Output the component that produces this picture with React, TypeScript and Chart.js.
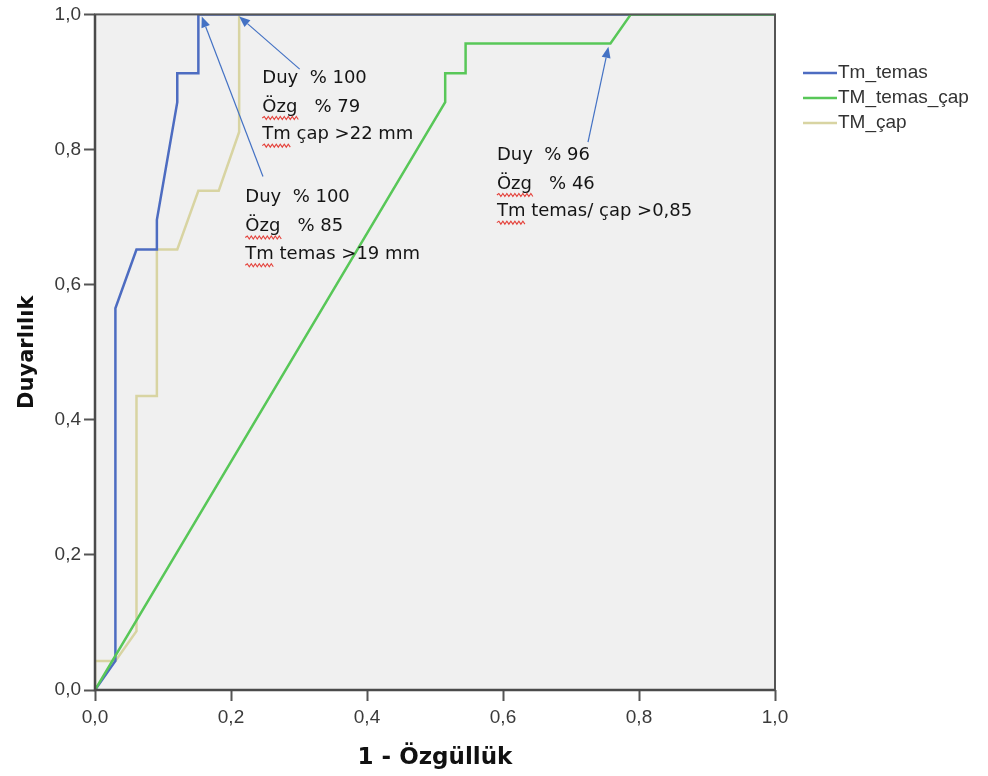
import { useEffect, useRef } from 'react';
import { Chart, registerables } from 'chart.js';

Chart.register(...registerables);

// ---- data ----
const seriesNames = ['Tm_temas', 'TM_temas_çap', 'TM_çap'];
const seriesColors = ['#4d6cc1', '#58c758', '#d8d4a2'];

const tmTemasX = [0, 0.030, 0.030, 0.061, 0.091, 0.091, 0.121, 0.121, 0.152, 0.152, 1];
const tmTemasY = [0, 0.043, 0.565, 0.652, 0.652, 0.696, 0.870, 0.913, 0.913, 1, 1];

const tmTemasCapX = [0, 0.515, 0.515, 0.545, 0.545, 0.758, 0.788, 1];
const tmTemasCapY = [0, 0.870, 0.913, 0.913, 0.957, 0.957, 1, 1];

const tmCapX = [0, 0, 0.030, 0.061, 0.061, 0.091, 0.091, 0.121, 0.152, 0.182, 0.212, 0.212, 1];
const tmCapY = [0, 0.043, 0.043, 0.087, 0.435, 0.435, 0.652, 0.652, 0.739, 0.739, 0.826, 1, 1];

const axisTicks = [0, 0.2, 0.4, 0.6, 0.8, 1.0];
const xTitle = '1 - Özgüllük';
const yTitle = 'Duyarlılık';

const note1 = ['Duy  % 100', 'Özg   % 79', 'Tm çap >22 mm'];
const note2 = ['Duy  % 100', 'Özg   % 85', 'Tm temas >19 mm'];
const note3 = ['Duy  % 96', 'Özg   % 46', 'Tm temas/ çap >0,85'];

// ---- layout of annotations (data coordinates) ----
const notePlacement = [
  { lines: note1, x: 0.246, y: [0.906, 0.863, 0.822] },
  { lines: note2, x: 0.221, y: [0.729, 0.686, 0.645] },
  { lines: note3, x: 0.591, y: [0.792, 0.749, 0.708] },
];
const arrowPlacement = [
  { from: [0.301, 0.919], to: [0.212, 0.997] },
  { from: [0.247, 0.760], to: [0.157, 0.997] },
  { from: [0.725, 0.811], to: [0.755, 0.952] },
];

const fmt = (v: number) => v.toFixed(1).replace('.', ',');
const toPts = (xs: number[], ys: number[]) => xs.map((x, i) => ({ x, y: ys[i] }));

const decorPlugin = {
  id: 'decor',
  beforeDatasetsDraw(chart: any) {
    const { ctx, chartArea: a } = chart;
    ctx.save();
    ctx.fillStyle = '#f0f0f0';
    ctx.fillRect(a.left, a.top, a.right - a.left, a.bottom - a.top);
    ctx.restore();
  },
  afterDatasetsDraw(chart: any) {
    const { ctx, chartArea: a, scales } = chart;
    const xs = scales.x;
    const ys = scales.y;
    ctx.save();
    // frame
    ctx.strokeStyle = '#555';
    ctx.lineWidth = 2;
    ctx.strokeRect(a.left, a.top, a.right - a.left, a.bottom - a.top);
    ctx.lineWidth = 2.5;
    ctx.strokeStyle = '#4a4a4a';
    ctx.beginPath();
    ctx.moveTo(a.left, a.top);
    ctx.lineTo(a.left, a.bottom);
    ctx.lineTo(a.right, a.bottom);
    ctx.stroke();

    // notes
    ctx.font = '18px "DejaVu Sans"';
    ctx.textAlign = 'left';
    ctx.textBaseline = 'middle';
    for (const n of notePlacement) {
      const px = xs.getPixelForValue(n.x);
      n.lines.forEach((line, i) => {
        const py = ys.getPixelForValue(n.y[i]);
        ctx.fillStyle = '#151515';
        ctx.fillText(line, px, py);
        // spell-check squiggle under first word for lines 2 and 3
        if (i > 0) {
          const word = line.split(' ')[0];
          const w = ctx.measureText(word).width;
          ctx.beginPath();
          ctx.strokeStyle = '#e4413a';
          ctx.lineWidth = 1.1;
          const yy = py + 11;
          let up = true;
          ctx.moveTo(px, yy);
          for (let sx = px + 2; sx <= px + w + 1; sx += 2) {
            ctx.lineTo(sx, yy + (up ? -1.5 : 1.5));
            up = !up;
          }
          ctx.stroke();
        }
      });
    }

    // arrows
    ctx.strokeStyle = '#4472c4';
    ctx.fillStyle = '#4472c4';
    ctx.lineWidth = 1.2;
    for (const ar of arrowPlacement) {
      const x1 = xs.getPixelForValue(ar.from[0]);
      const y1 = ys.getPixelForValue(ar.from[1]);
      const x2 = xs.getPixelForValue(ar.to[0]);
      const y2 = ys.getPixelForValue(ar.to[1]);
      const ang = Math.atan2(y2 - y1, x2 - x1);
      const hl = 11;
      const hw = 4.5;
      const bx = x2 - hl * Math.cos(ang);
      const by = y2 - hl * Math.sin(ang);
      ctx.beginPath();
      ctx.moveTo(x1, y1);
      ctx.lineTo(bx, by);
      ctx.stroke();
      ctx.beginPath();
      ctx.moveTo(x2, y2);
      ctx.lineTo(bx + hw * Math.sin(ang), by - hw * Math.cos(ang));
      ctx.lineTo(bx - hw * Math.sin(ang), by + hw * Math.cos(ang));
      ctx.closePath();
      ctx.fill();
    }
    ctx.restore();
  },
  afterDraw(chart: any) {
    const { ctx, chartArea: a } = chart;
    ctx.save();
    ctx.font = '19px "Liberation Sans"';
    ctx.textAlign = 'left';
    ctx.textBaseline = 'middle';
    const lx = a.right + 28;
    seriesNames.forEach((name, i) => {
      const y = 73 + i * 25;
      ctx.strokeStyle = seriesColors[i];
      ctx.lineWidth = 2.5;
      ctx.beginPath();
      ctx.moveTo(lx, y);
      ctx.lineTo(lx + 34, y);
      ctx.stroke();
      ctx.fillStyle = '#333';
      ctx.fillText(name, lx + 35, y);
    });
    ctx.restore();
  },
};

export default function App() {
  const ref = useRef<HTMLCanvasElement>(null);
  useEffect(() => {
    if (!ref.current) return;
    const tickFont = { family: '"Liberation Sans"', size: 19 };
    const commonScale = (axis: 'x' | 'y') => ({
      type: 'linear' as const,
      min: 0,
      max: 1,
      afterBuildTicks: (s: any) => {
        s.ticks = axisTicks.map((v) => ({ value: v }));
      },
      ticks: {
        callback: (v: any) => fmt(Number(v)),
        font: tickFont,
        color: '#3a3a3a',
        padding: axis === 'x' ? 5 : 3,
        maxRotation: 0,
        autoSkip: false,
      },
      grid: {
        drawOnChartArea: false,
        drawTicks: true,
        tickLength: 11,
        tickWidth: 2,
        tickColor: '#555',
        color: '#555',
      },
      border: { display: false },
      title: {
        display: true,
        text: axis === 'x' ? xTitle : yTitle,
        color: '#111',
        font: { family: '"DejaVu Sans"', weight: 'bold' as const, size: axis === 'x' ? 23 : 21 },
        padding: axis === 'x' ? { top: 0, bottom: 4 } : { top: 15, bottom: 0 },
      },
      afterFit: (s: any) => {
        if (axis === 'x') s.height = 86;
        else s.width = 95;
      },
    });

    const chart = new Chart(ref.current, {
      type: 'line',
      data: {
        datasets: [
          {
            label: seriesNames[0],
            data: toPts(tmTemasX, tmTemasY),
            borderColor: seriesColors[0],
            order: 1,
          },
          {
            label: seriesNames[1],
            data: toPts(tmTemasCapX, tmTemasCapY),
            borderColor: seriesColors[1],
            order: 0,
          },
          {
            label: seriesNames[2],
            data: toPts(tmCapX, tmCapY),
            borderColor: seriesColors[2],
            order: 2,
          },
        ],
      },
      options: {
        responsive: false,
        animation: false,
        elements: {
          line: { borderWidth: 2.5, tension: 0, fill: false },
          point: { radius: 0, hoverRadius: 0 },
        },
        layout: { padding: { top: 12, right: 213, left: 0, bottom: 0 } },
        plugins: {
          legend: { display: false },
          tooltip: { enabled: false },
        },
        scales: {
          x: commonScale('x'),
          y: commonScale('y'),
        },
      },
      plugins: [decorPlugin],
    });
    return () => chart.destroy();
  }, []);

  return (
    <div style={{ position: 'fixed', left: 0, top: 0, width: 988, height: 776, background: '#fff' }}>
      <canvas ref={ref} width={988} height={776} style={{ display: 'block' }} />
    </div>
  );
}
